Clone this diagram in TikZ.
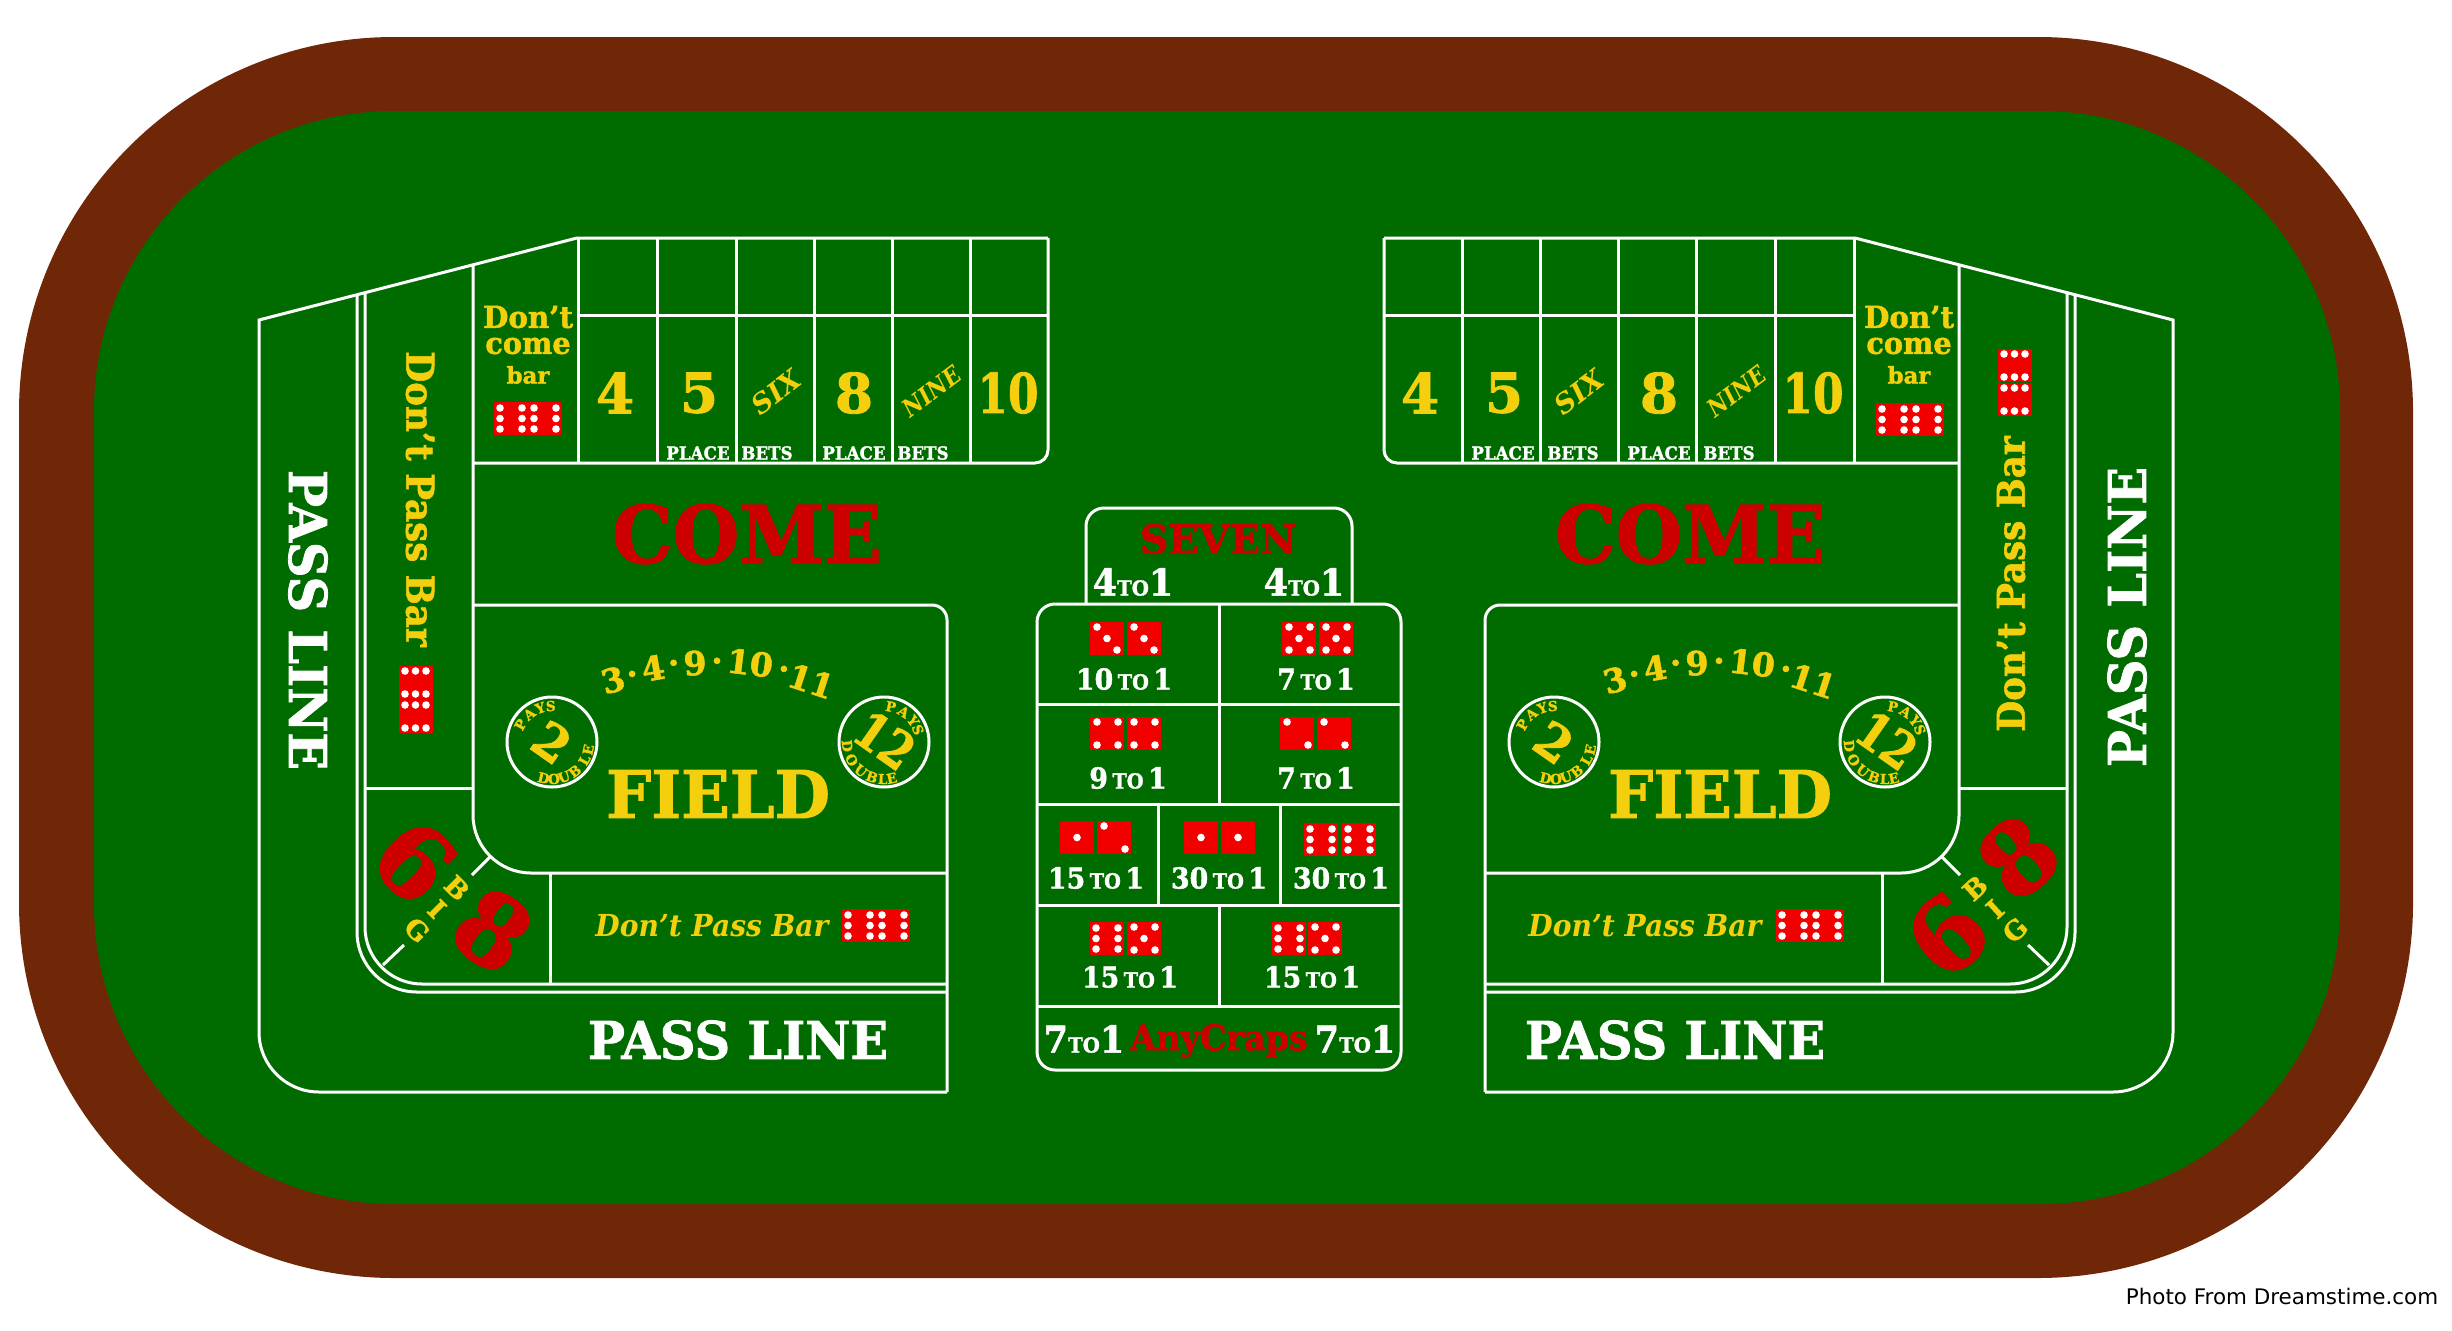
\documentclass[tikz,border=0pt]{standalone}
\usepackage{graphicx}
\usepackage{fontspec}
\setmainfont{DejaVu Serif}[BoldFeatures={FakeBold=1.5}]
\setsansfont{DejaVu Sans}
\definecolor{rail}{HTML}{702708}
\definecolor{felt}{HTML}{006C00}
\definecolor{gold}{HTML}{F4CF0E}
\definecolor{crimson}{HTML}{CC0000}
\definecolor{diered}{HTML}{F20000}
\newcommand{\fsz}[1]{\fontsize{#1}{#1}\selectfont\bfseries}
\newcommand{\sqz}[2]{\scalebox{#1}[1]{#2}}
\newcommand{\oddsrow}[2]{\fsz{8.2}\sqz{.93}{#1\,{\fsz{5.9}TO}\,#2}}
\newcommand{\oddsbig}[2]{\fsz{10.5}\sqz{.95}{#1{\fsz{5.9}TO}#2}}
% pip offsets inside one die
\def\faceone{17/16.5}
\def\facetwo{7/5,28/28}
\def\facethree{7/5,17/16.5,27/28}
\def\facefour{7/5,28/5,7/28,28/28}
\def\facefive{7/5,28/5,17/16.5,7/28,28/28}
\def\facesix{6/6,6/16.5,6/27,28/6,28/16.5,28/27}
\def\faceside{6/5,16.5/5,27/5,6/28,16.5/28,27/28}
\newcommand{\die}[3]{%
  \fill[diered] (#1,#2) rectangle ++(34,33);
  \expandafter\let\expandafter\curface\csname face#3\endcsname
  \foreach \px/\py in \curface {\fill[white] (#1+\px,#2+\py) circle (3.8);}
}
\tikzset{
  tableline/.style={draw=white, line width=.03cm},
  wtext/.style={text=white, inner sep=0pt},
  ytext/.style={text=gold, inner sep=0pt},
  rtext/.style={text=crimson, inner sep=0pt}
}

\begin{document}
\begin{tikzpicture}[x=.01cm,y=-.01cm]
  \useasboundingbox (0,0) rectangle (2452,1330);
  \fill[white] (0,0) rectangle (2452,1330);
  \fill[rail, rounded corners=3.75cm] (19,37) rectangle (2413,1278);
  \fill[felt, rounded corners=3cm] (94,111) rectangle (2340,1204);

  % the two mirrored halves of the layout
  \foreach \mx/\sx in {0/1,2432/-1} {
    \begin{scope}[shift={(\mx,0)}, xscale=\sx]
      \draw[tableline, line join=miter] (947,1092) [rounded corners=.6cm] -- (259,1092) -- (259,700) [sharp corners] -- (259,320) -- (577,238) -- (1048,238);
      \draw[tableline, rounded corners=.6cm] (357,295) -- (357,992) -- (947,992);
      \draw[tableline, rounded corners=.57cm] (365,293) -- (365,984) -- (947,984);
      \draw[tableline, rounded corners=.58cm] (473,265) -- (473,873) -- (947,873);
      \draw[tableline, rounded corners=.15cm] (473,605) -- (947,605) -- (947,1092);
      \draw[tableline, rounded corners=.13cm] (473,463) -- (1048,463) -- (1048,238);
      \draw[tableline] (578,315) -- (1048,315);
      \foreach \gx in {578,657,736,814,892,970} {\draw[tableline] (\gx,238) -- (\gx,463);}
      \draw[tableline] (365,788) -- (473,788);
      \draw[tableline] (550,873) -- (550,984);
      \draw[tableline] (490,857) -- (472,875);
      \draw[tableline] (404,945) -- (383,965);
    \end{scope}
  }

  % proposition box
  \draw[tableline, rounded corners=.18cm] (1086,604) -- (1086,508) -- (1352,508) -- (1352,604);
  \draw[tableline, rounded corners=.18cm] (1037,604) rectangle (1401,1070);
  \foreach \ry in {704,804,905,1006} {\draw[tableline] (1037,\ry) -- (1401,\ry);}
  \draw[tableline] (1219,604) -- (1219,804);
  \draw[tableline] (1219,905) -- (1219,1006);
  \draw[tableline] (1158,804) -- (1158,905);
  \draw[tableline] (1280,804) -- (1280,905);

  % dice
  \foreach \dx/\dy/\dface in {1090/622/three,1127/622/three,1282/622/five,1319/622/five,
      1090/717/four,1127/717/four,1280/717/two,1317/717/two,
      1060/821/one,1097/821/two,1184/821/one,1221/821/one,1304/823/six,1342/823/six,
      1090/922/six,1127/922/five,1272/922/six,1308/922/five,
      494/402/six,528/402/six,1876/403/six,1910/403/six,
      842/909/six,876/909/six,1776/909/six,1810/909/six,
      399/666/side,399/700/side,1998/349/side,1998/383/side} {
    \die{\dx}{\dy}{\dface}
  }

  % field circles
  \foreach \cx in {552,884,1554,1885} {\draw[tableline] (\cx,742) circle (45);}

  % pass line and don't pass
  \node[wtext, font=\fsz{14.8}, rotate=-90] (passleft) at (308,620) {\sqz{.95}{PASS LINE}};
  \node[wtext, font=\fsz{14.8}, rotate=90] (passright) at (2127,617) {\sqz{.95}{PASS LINE}};
  \node[wtext, font=\fsz{14.8}] (passbotl) at (738,1040) {\sqz{.95}{PASS LINE}};
  \node[wtext, font=\fsz{14.8}] (passbotr) at (1675,1040) {\sqz{.95}{PASS LINE}};
  \node[ytext, font=\fsz{10.9}, rotate=-90] (dontl) at (420,499) {\sqz{.93}{Don’t Pass Bar}};
  \node[ytext, font=\fsz{10.9}, rotate=90] (dontr) at (2011,584) {\sqz{.93}{Don’t Pass Bar}};
  \node[ytext, font=\fsz{8.6}\itshape] (dontbotl) at (712,926) {\sqz{.93}{Don’t Pass Bar}};
  \node[ytext, font=\fsz{8.6}\itshape] (dontbotr) at (1645,926) {\sqz{.93}{Don’t Pass Bar}};

  % don't come bar
  \foreach \bx/\bn in {528/l,1909/r} {
    \node[ytext, font=\fsz{8.6}] (dont\bn) at (\bx,317) {\sqz{.97}{Don’t}};
    \node[ytext, font=\fsz{8.6}] (come\bn) at (\bx,346) {\sqz{.95}{come}};
    \node[ytext, font=\fsz{6.5}] (bar\bn) at (\bx,375) {bar};
  }

  % place numbers
  \foreach \nx/\nt/\i in {615/4/a,699/5/b,854/8/c,1420/4/d,1504/5/e,1659/8/f} {
    \node[ytext, font=\fsz{15.6}] (num\i) at (\nx,393) {\nt};
  }
  \node[ytext, font=\fsz{15.6}] (tenl) at (1008,393) {\sqz{.8}{10}};
  \node[ytext, font=\fsz{15.6}] (tenr) at (1813,393) {\sqz{.8}{10}};
  \foreach \nx/\i in {776/l,1579/r} {\node[ytext, font=\fsz{7.8}\itshape, rotate=37] (six\i) at (\nx,392) {SIX};}
  \foreach \nx/\i in {932/l,1737/r} {\node[ytext, font=\fsz{7}\itshape, rotate=37] (nine\i) at (\nx,391) {\sqz{.88}{NINE}};}
  \foreach \nx/\nt/\i in {698/PLACE/a,767/BETS/b,854/PLACE/c,923/BETS/d,1503/PLACE/e,1573/BETS/f,1659/PLACE/g,1729/BETS/h} {
    \node[wtext, font=\fsz{5.1}] (bet\i) at (\nx,453) {\sqz{.93}{\nt}};
  }

  % come and field
  \node[rtext, font=\fsz{22.6}] (comel) at (747,534) {\sqz{.96}{COME}};
  \node[rtext, font=\fsz{22.6}] (comer) at (1690,534) {\sqz{.96}{COME}};
  \foreach \fx/\fn in {0/l,1002/r} {
    \node[ytext, font=\fsz{18.7}] (field\fn) at (718+\fx,794) {\sqz{.97}{FIELD}};
    \foreach \ax/\ay/\at/\ar/\an in {613/680/3/15/a,633/678/·/12/b,653/668/4/10/c,674/667/·/6/d,695/663/9/3/e,
        717/665/·/0/f,750/663/10/-7/g,783/673/·/-12/h,811/681/11/-18/i} {
      \node[ytext, font=\fsz{9.4}, rotate=\ar] (arc\fn\an) at (\ax+\fx,\ay) {\at};
    }
    % the two pays-double circles
    \node[ytext, font=\fsz{14}, rotate=-35] (two\fn) at (552+\fx,742) {2};
    \node[ytext, font=\fsz{14.5}, rotate=-35] (twelve\fn) at (885+\fx,740) {\sqz{.85}{12}};
    \foreach \ch/\a/\i in {P/151/1,A/129/2,Y/109/3,S/92/4} {
      \node[ytext, font=\fsz{3.9}, rotate=\a-90] (paya\fn\i) at ({552+\fx+36*cos(\a)},{742-36*sin(\a)}) {\ch};
    }
    \foreach \ch/\a/\i in {D/257/1,O/273/2,U/289/3,B/308/4,L/331/5,E/348/6} {
      \node[ytext, font=\fsz{3.9}, rotate=\a+90] (dbla\fn\i) at ({552+\fx+37*cos(\a)},{742-37*sin(\a)}) {\ch};
    }
    \foreach \ch/\a/\i in {P/79/1,A/57/2,Y/36/3,S/20/4} {
      \node[ytext, font=\fsz{3.9}, rotate=\a-90] (payb\fn\i) at ({884+\fx+36*cos(\a)},{742-36*sin(\a)}) {\ch};
    }
    \foreach \ch/\a/\i in {D/186/1,O/209/2,U/231/3,B/251/4,L/268/5,E/282/6} {
      \node[ytext, font=\fsz{3.9}, rotate=\a+90] (dblb\fn\i) at ({884+\fx+37*cos(\a)},{742-37*sin(\a)}) {\ch};
    }
  }

  % big 6 and 8
  \node[rtext, font=\fsz{28}, rotate=-45] (sixbigl) at (415,861) {6};
  \node[rtext, font=\fsz{28}, rotate=-35] (eightbigl) at (493,930) {8};
  \node[rtext, font=\fsz{28}, rotate=43] (sixbigr) at (1947,935) {6};
  \node[rtext, font=\fsz{28}, rotate=42] (eightbigr) at (2018,857) {8};
  \foreach \lx/\ly/\ch in {457/888/B,437/909/I,417/930/G} {
    \node[ytext, font=\fsz{7.5}, rotate=-45] (bigl\ch) at (\lx,\ly) {\ch};
  }
  \foreach \lx/\ly/\ch in {1975/888/B,1995/909/I,2015/930/G} {
    \node[ytext, font=\fsz{7.5}, rotate=43] (bigr\ch) at (\lx,\ly) {\ch};
  }

  % proposition bets
  \node[rtext, font=\fsz{11.3}] (seven) at (1218,539) {SEVEN};
  \node[wtext, anchor=center] (foura) at (1133,582) {\oddsbig{4}{1}};
  \node[wtext, anchor=center] (fourb) at (1304,582) {\oddsbig{4}{1}};
  \foreach \ox/\oy/\oa/\ob/\i in {1124/679/10/1/a,1316/679/7/1/b,1128/778/9/1/c,1316/778/7/1/d,
      1096/878/15/1/e,1219/878/30/1/f,1341/878/30/1/g,1130/977/15/1/h,1312/977/15/1/j} {
    \node[wtext] (odds\i) at (\ox,\oy) {\oddsrow{\oa}{\ob}};
  }
  \node[wtext] (sevena) at (1084,1039) {\oddsbig{7}{1}};
  \node[wtext] (sevenb) at (1355,1039) {\oddsbig{7}{1}};
  \node[rtext, font=\fsz{10}] (anycraps) at (1219,1041) {\sqz{.95}{AnyCraps}};

  \node[text=black, inner sep=0pt, font=\sffamily\fontsize{6.1}{6.1}\selectfont] (credit) at (2282,1296) {Photo From Dreamstime.com};
\end{tikzpicture}
\end{document}
